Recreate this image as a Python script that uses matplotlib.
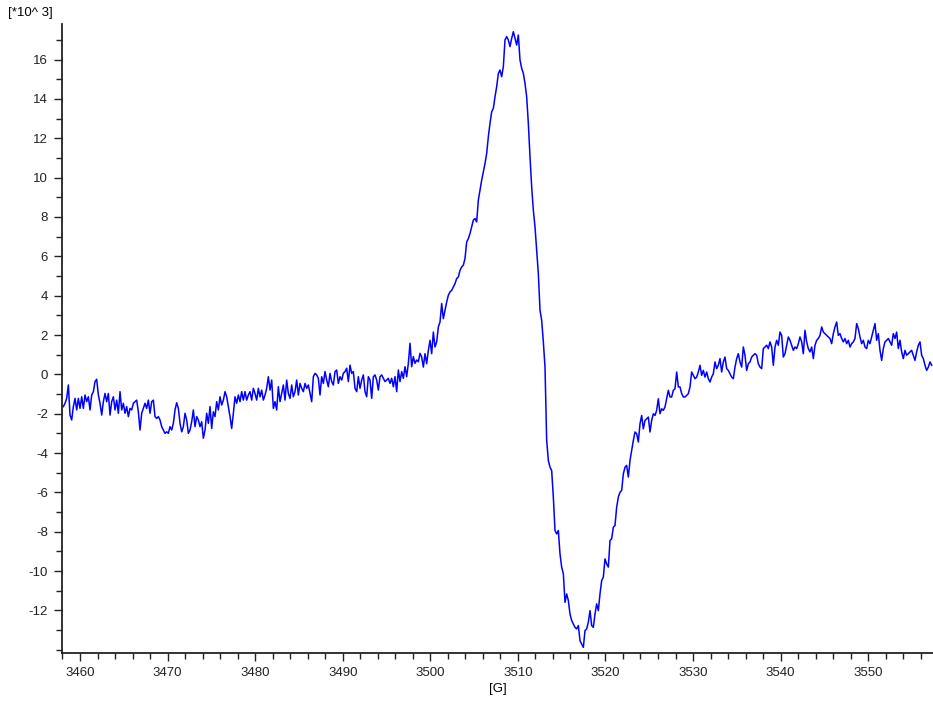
import numpy as np
import matplotlib
matplotlib.use("Agg")
import matplotlib.pyplot as plt
from matplotlib.ticker import MultipleLocator

plt.rcParams['font.family'] = ['Liberation Sans', 'DejaVu Sans']
plt.rcParams['axes.unicode_minus'] = False

# Field axis (gauss): uniform sweep
FIELD_START = 3458.10
FIELD_STEP = 0.1903

# Signal intensity (x10^3), left to right
baseline_low = [
    -1.64, -1.47, -1.22, -0.54, -2.07, -2.32, -1.64, -1.22, -1.81, -1.22,
    -1.73, -1.14, -1.73, -1.05, -1.39, -1.14, -1.81, -1.05, -0.88, -0.37,
    -0.25, -1.05, -1.47, -2.07, -1.39, -0.97, -1.39, -0.97, -2.07, -1.39,
    -1.14, -1.81, -1.31, -1.98, -0.88, -1.81, -1.47, -1.98, -1.64, -2.15,
    -1.73, -1.81, -1.47, -1.39, -1.31, -1.90, -2.83, -1.98, -1.73, -1.47,
    -1.73, -1.31, -1.98, -1.39, -1.31, -2.15, -2.24, -2.15, -2.32, -2.66,
    -2.83, -3.00, -2.92, -3.00, -2.66, -2.83, -2.49, -1.81, -1.44, -1.73,
    -2.49, -2.92, -2.66, -1.98, -2.32, -3.00, -2.83, -2.41, -1.81, -2.66,
    -2.15, -2.32, -2.66, -2.41, -3.25, -2.83, -1.98, -2.49, -1.64, -2.75,
    -1.90, -2.15, -1.39, -1.81, -1.14, -1.56, -1.31, -0.88, -1.14, -1.64,
    -2.15, -2.75, -1.98, -1.14, -1.47, -1.05, -1.39, -0.88, -1.31, -0.88,
    -1.31, -1.05, -0.88, -1.31, -0.71, -0.97, -1.31, -0.71, -1.14, -0.80,
    -1.31, -1.05, -0.71, -0.12, -0.80, -0.29, -1.73, -1.39, -1.81, -0.63,
    -1.39, -0.97, -0.54, -1.31, -0.29, -0.97, -1.22, -0.54, -1.14, -0.88,
    -0.29, -1.05, -0.46, -0.71, -0.88, -0.46, -0.71, -0.54, -0.97, -1.39,
    -0.12, 0.05, -0.03, -0.20, -1.05, -0.12, -0.46, 0.14, -0.29, -0.63,
    0.05, -0.37, -0.54, 0.14, 0.22, -0.46, -0.12, -0.29, 0.05, 0.14,
    0.31, -0.37, 0.47, 0.05, 0.14, -0.71, -0.88, -0.12, -0.71, -0.29,
    -0.03, -0.88, -1.14, -0.12, -0.29, -1.22, -0.12, -0.03, -0.29, -0.80,
    -0.12, -0.03, -0.20, -0.37, -0.29, -0.20, -0.46, -0.20, -0.63, -0.12,
    -0.88, 0.22, -0.37, 0.14, -0.20, 0.39, -0.12, 0.56, 1.58, 0.39,
    0.90, 0.56, 0.73, 0.64, 1.07,
]

peak_rise = [
    0.88, 0.37, 1.05, 0.54, 1.22, 1.73, 1.05, 2.15, 1.39, 1.65,
    2.41, 2.66, 3.60, 2.83, 3.26, 3.68, 4.02, 4.19, 4.27, 4.44,
    4.61, 4.87, 4.95, 5.29, 5.46, 5.55, 5.89, 6.73, 6.90, 7.16,
    7.50, 7.84, 7.92, 7.75, 8.86, 9.36, 9.87, 10.30, 10.72, 11.23,
    12.08, 12.76, 13.35, 13.52, 14.11, 14.62, 15.30, 15.47, 15.13, 15.64,
    17.00, 17.17, 17.00, 16.66, 17.08, 17.42, 17.08, 16.74, 17.25, 15.98,
    15.56, 15.30, 14.79, 14.11, 12.76, 11.06, 9.53, 8.35, 7.50, 6.31,
    5.12, 3.26, 2.75, 1.65, 0.37,
]

trough = [
    -3.36, -4.38, -4.72, -4.89, -6.24, -7.94, -8.11, -7.94, -9.13, -9.80,
    -10.14, -11.59, -11.16, -11.50, -12.18, -12.52, -12.69, -12.86, -12.94, -12.77,
    -13.54, -13.71, -13.88, -13.03, -12.94, -12.60, -12.01, -12.77, -12.86, -12.18,
    -11.67, -12.01, -11.16, -10.48, -10.31, -9.38, -9.64, -9.80, -8.45, -8.36,
    -7.77, -7.68, -6.75, -6.24, -5.99, -5.90, -5.06, -4.72, -4.63, -5.22,
    -4.38, -3.87, -3.36, -2.93, -3.02, -3.44, -2.51, -2.09, -2.77, -2.34,
    -2.26, -2.17, -2.93, -2.34, -2.00, -2.09, -1.83, -1.24, -2.00, -1.75,
    -1.83, -1.66, -1.24, -0.81, -1.15, -1.15, -0.81, -0.73, 0.12, -0.64,
]

baseline_high = [
    -0.64, -0.98, -1.15, -1.15, -1.07, -0.98, -0.64, 0.12, -0.05, -0.22,
    -0.14, 0.12, 0.46, -0.05, 0.20, -0.14, 0.12, -0.22, -0.39, -0.14,
    0.03, 0.63, 0.29, 0.46, 0.80, 0.12, 0.63, 0.88, 0.29, 0.20,
    0.03, -0.14, -0.22, 0.37, 0.80, 1.05, 0.63, 0.37, 1.39, 0.97,
    0.20, 0.54, 0.63, 0.88, 0.97, 1.05, 0.97, 0.54, 0.37, 0.29,
    1.31, 1.39, 1.48, 1.31, 1.65, 1.39, 0.46, 1.39, 1.73, 1.48,
    2.15, 1.98, 0.88, 1.05, 1.48, 1.90, 1.73, 1.48, 1.22, 1.39,
    1.31, 1.56, 1.90, 1.65, 1.05, 2.24, 1.65, 1.31, 1.14, 1.39,
    0.80, 1.48, 1.73, 1.82, 1.98, 2.41, 2.15, 2.07, 1.98, 1.90,
    1.82, 1.56, 2.07, 2.41, 2.66, 1.98, 2.07, 1.82, 1.65, 1.82,
    1.56, 1.73, 1.39, 1.56, 1.65, 1.82, 2.58, 2.32, 1.90, 1.56,
    1.73, 1.39, 1.31, 1.73, 1.56, 1.90, 2.24, 2.58, 1.73, 2.07,
    1.22, 0.71, 1.31, 1.65, 1.73, 1.82, 1.65, 1.48, 2.07, 1.82,
    2.15, 1.31, 1.73, 1.14, 0.80, 1.22, 0.97, 1.05, 1.14, 1.22,
    0.97, 0.71, 1.14, 1.48, 1.65, 0.97, 0.80, 0.46, 0.20, 0.37,
    0.63, 0.46,
]

X_TICKS = [3460, 3470, 3480, 3490, 3500, 3510, 3520, 3530, 3540, 3550]
Y_TICKS = [-12, -10, -8, -6, -4, -2, 0, 2, 4, 6, 8, 10, 12, 14, 16]
Y_UNIT_LABEL = "[*10^ 3]"
X_LABEL = "[G]"

signal = np.array(baseline_low + peak_rise + trough + baseline_high)
field = FIELD_START + FIELD_STEP * np.arange(len(signal))

fig = plt.figure(figsize=(9.33, 7.02), dpi=100)
ax = fig.add_axes([0.0665, 0.0694, 0.9335, 0.8964])

ax.plot(field, signal, color='#0000ff', lw=1.1)

ax.set_xlim(3457.95, 3557.4)
ax.set_ylim(-14.18, 17.81)
ax.set_xticks(X_TICKS)
ax.set_yticks(Y_TICKS)
ax.xaxis.set_minor_locator(MultipleLocator(2))
ax.yaxis.set_minor_locator(MultipleLocator(1))

for s in ['top', 'right']:
    ax.spines[s].set_visible(False)
for s in ['left', 'bottom']:
    ax.spines[s].set_linewidth(1.3)
    ax.spines[s].set_color('#222222')

ax.tick_params(axis='both', which='major', direction='out', length=6, width=1.0,
               labelsize=9.5, colors='#222222', pad=4)
ax.tick_params(axis='both', which='minor', direction='out', length=4, width=1.0,
               colors='#222222')

ax.set_xlabel(X_LABEL, fontsize=9.5, labelpad=3)
fig.text(0.009, 0.982, Y_UNIT_LABEL, fontsize=9.5, ha='left', va='center')

fig.savefig('out.png', dpi=100)
